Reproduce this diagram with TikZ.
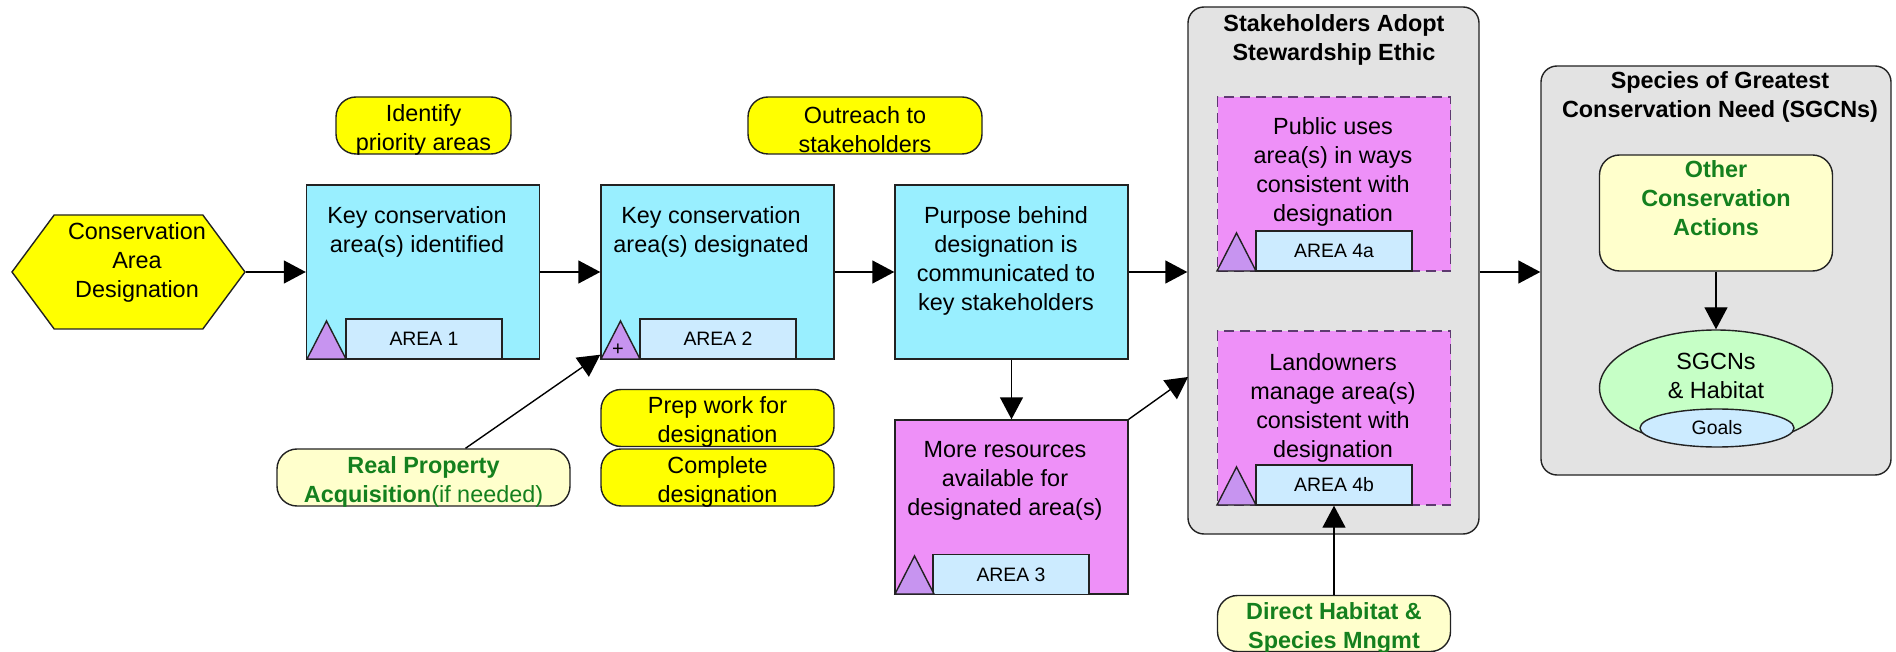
\documentclass[tikz,border=0pt]{standalone}
\usepackage{fontspec}
\setmainfont{Liberation Sans}
\usetikzlibrary{arrows.meta,shapes.geometric,shapes.symbols}
\definecolor{hexyellow}{HTML}{FFFF00}
\definecolor{boxblue}{HTML}{99EFFF}
\definecolor{boxpink}{HTML}{EE90F8}
\definecolor{areablue}{HTML}{CCEBFF}
\definecolor{tripurple}{HTML}{C794F0}
\definecolor{paleyellow}{HTML}{FFFFCC}
\definecolor{actgreen}{HTML}{14801E}
\definecolor{groupgray}{HTML}{E3E3E3}
\definecolor{palegreen}{HTML}{C6FFC6}
\definecolor{dashpurple}{HTML}{5E3A70}
\definecolor{linedark}{HTML}{222222}
\newcommand{\lowline}{\rule{0pt}{12.5pt}}
\tikzset{
  txt/.style={font=\fontsize{11.7}{14.5}\selectfont,align=center,inner sep=0pt},
  headtxt/.style={txt,font=\fontsize{11.7}{14.5}\selectfont\bfseries},
  greentxt/.style={txt,font=\fontsize{11.7}{14.5}\selectfont\bfseries,text=actgreen},
  stepbox/.style={draw=linedark,line width=0.7pt,minimum width=116.5pt,minimum height=87pt,inner sep=0pt},
  bluebox/.style={stepbox,fill=boxblue},
  pinkbox/.style={stepbox,fill=boxpink},
  usebox/.style={pinkbox,draw=dashpurple,line width=0.9pt,dash pattern=on 5pt off 3pt},
  areabox/.style={draw=linedark,line width=0.7pt,fill=areablue,minimum width=78pt,minimum height=20pt,inner sep=0pt,font=\fontsize{9.7}{12}\selectfont},
  tri/.style={draw=linedark,line width=0.7pt,fill=tripurple},
  pill/.style={txt,inner ysep=-3pt,draw=linedark,line width=0.7pt,fill=hexyellow,rounded corners=10pt,minimum height=28.5pt},
  act/.style={txt,inner ysep=-3pt,draw=linedark,line width=0.7pt,fill=paleyellow,rounded corners=10pt,text=actgreen,font=\fontsize{11.7}{14.5}\selectfont\bfseries},
  groupbox/.style={draw=linedark,line width=0.7pt,fill=groupgray,rounded corners=8pt,inner sep=0pt},
  conn/.style={draw=black,line width=0.7pt,-{Triangle[length=11pt,width=11.5pt]}}
}
\begin{document}
\begin{tikzpicture}[x=0.5pt,y=-0.5pt]
  \useasboundingbox (0,0) rectangle (1896,652);
  \node[groupbox,minimum width=145.5pt,minimum height=263.5pt](stake)at(1333.5,270.5){};
  \node[groupbox,minimum width=175pt,minimum height=204.5pt](species)at(1716,270.5){};
  \node[headtxt](staketxt)at(1334,40){Stakeholders Adopt\\Stewardship Ethic};
  \node[headtxt](speciestxt)at(1720,97){Species of Greatest\\Conservation Need (SGCNs)};

  \node[signal,signal to=east and west,signal pointer angle=107,draw=linedark,line width=0.7pt,fill=hexyellow,minimum width=116.5pt,minimum height=57pt,inner sep=0pt](hex)at(128.5,272){};
  \node[txt](hextxt)at(137,262){Conservation\\Area\\Designation};

  \node[pill,minimum width=87.5pt](identify)at(423.5,125.5){\lowline Identify\\priority areas};
  \node[pill,minimum width=117pt](outreach)at(865,125.5){\lowline Outreach to\\stakeholders};
  \node[pill,minimum width=116.5pt](prep)at(717.5,418){\lowline Prep work for\\designation};
  \node[pill,minimum width=116.5pt](complete)at(717.5,477.5){\lowline Complete\\designation};

  \node[bluebox](boxa)at(423,272){};
  \node[txt](boxatxt)at(417,232){Key conservation\\area(s) identified};
  \node[areabox](areaa)at(424,339){AREA 1};
  \draw[tri,shift={(307,359)}] (0,0) -- (19.5,-38) -- (39,0) -- cycle;

  \node[bluebox](boxb)at(717.5,272){};
  \node[txt](boxbtxt)at(711,232){Key conservation\\area(s) designated};
  \node[areabox](areab)at(718,339){AREA 2};
  \draw[tri,shift={(601,359)}] (0,0) -- (19.5,-38) -- (39,0) -- cycle;
  \node[txt,font=\fontsize{10}{12}\selectfont](plus)at(618,350){+};

  \node[bluebox](boxc)at(1011.5,272){};
  \node[txt](boxctxt)at(1006,261){Purpose behind\\designation is\\communicated to\\key stakeholders};

  \node[pinkbox](more)at(1011.5,507){};
  \node[txt](moretxt)at(1005,481){More resources\\available for\\designated area(s)};
  \node[areabox](areac)at(1011,574.5){AREA 3};
  \draw[tri,shift={(895,594)}] (0,0) -- (19.5,-38) -- (39,0) -- cycle;

  \node[usebox](public)at(1334,184){};
  \node[txt](publictxt)at(1333,172){Public uses\\area(s) in ways\\consistent with\\designation};
  \node[areabox](aread)at(1334,251){AREA 4a};
  \draw[tri,shift={(1217,271)}] (0,0) -- (19.5,-38) -- (39,0) -- cycle;

  \node[usebox](land)at(1334,418){};
  \node[txt](landtxt)at(1333,408){Landowners\\manage area(s)\\consistent with\\designation};
  \node[areabox](areae)at(1334,485){AREA 4b};
  \draw[tri,shift={(1217,505)}] (0,0) -- (19.5,-38) -- (39,0) -- cycle;

  \node[act,minimum width=146.5pt,minimum height=28.5pt](real)at(423.5,477.5){\lowline Real Property\\Acquisition{\mdseries(if needed)}};
  \node[act,minimum width=116.5pt,minimum height=28pt](direct)at(1334,623.5){\lowline Direct Habitat \&\\Species Mngmt};
  \node[draw=linedark,line width=0.7pt,fill=paleyellow,rounded corners=10pt,inner sep=0pt,minimum width=116.5pt,minimum height=58pt](other)at(1716,213){};
  \node[greentxt](othertxt)at(1716,198){Other\\Conservation\\Actions};

  \node[ellipse,draw=linedark,line width=0.7pt,fill=palegreen,minimum width=116.5pt,minimum height=58pt,inner sep=0pt](sgcn)at(1716,388){};
  \node[txt](sgcntxt)at(1716,376){SGCNs\\\& Habitat};
  \node[ellipse,draw=linedark,line width=0.7pt,fill=areablue,minimum width=77pt,minimum height=19pt,inner sep=0pt,font=\fontsize{9.7}{12}\selectfont](goals)at(1717,428){Goals};

  \coordinate(stakein)at(1188,377);
  \draw[conn](hex)--(boxa);
  \draw[conn](boxa)--(boxb);
  \draw[conn](boxb)--(boxc);
  \draw[conn](boxc)--(boxc-|stake.west);
  \draw[conn](boxc)--(more);
  \draw[conn](more.north east)--(stakein);
  \draw[conn](stake.east|-boxc)--(species.west|-boxc);
  \draw[conn]([xshift=21pt]real.north)--([yshift=2.5pt]boxb.south west);
  \draw[conn](direct)--(areae);
  \draw[conn](other)--(sgcn);
\end{tikzpicture}
\end{document}
